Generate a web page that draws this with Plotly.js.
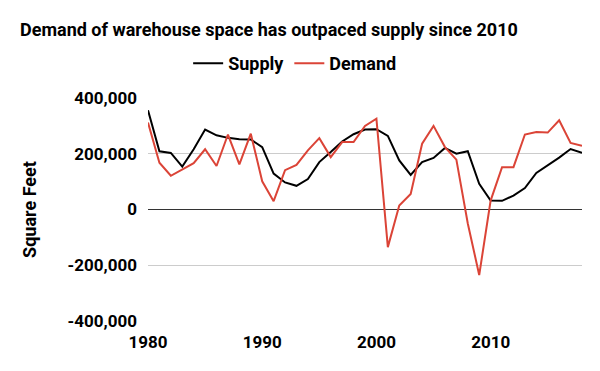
<!DOCTYPE html>
<html>
<head>
<meta charset="utf-8">
<script src="https://cdn.plot.ly/plotly-3.0.1.min.js"></script>
<style>
html,body{margin:0;padding:0;background:#fff;}
#chart{width:600px;height:371px;}
</style>
</head>
<body>
<div id="chart"></div>
<script>
const years = [1980,1981,1982,1983,1984,1985,1986,1987,1988,1989,
  1990,1991,1992,1993,1994,1995,1996,1997,1998,1999,
  2000,2001,2002,2003,2004,2005,2006,2007,2008,2009,
  2010,2011,2012,2013,2014,2015,2016,2017,2018];
const supply = [356000,209000,203000,154000,216000,287000,266000,257000,252000,251000,
  224000,129000,97000,85000,109000,170000,206000,244000,270000,287000,
  288000,264000,176000,124000,170000,185000,221000,200000,209000,92000,
  32000,31000,50000,77000,131000,157000,186000,217000,203000];
const demand = [312000,168000,121000,144000,166000,216000,156000,269000,162000,272000,
  101000,30000,141000,160000,212000,256000,188000,242000,242000,300000,
  326000,-135000,14000,56000,236000,300000,224000,179000,-50000,-235000,
  32000,152000,152000,269000,278000,276000,320000,239000,229000];
const seriesNames = ["Supply","Demand"];
const titleText = "Demand of warehouse space has outpaced supply since 2010";
const yTitle = "Square Feet";
const yTicks = [-400000,-200000,0,200000,400000];
const xTicks = [1980,1990,2000,2010];

const font = "Roboto, 'Open Sans', sans-serif";
const traces = [
  {x: years, y: supply, name: seriesNames[0], type: "scatter", mode: "lines",
   line: {color: "#000000", width: 2}},
  {x: years, y: demand, name: seriesNames[1], type: "scatter", mode: "lines",
   line: {color: "#db4437", width: 2}}
];
const layout = {
  width: 600, height: 371,
  margin: {l: 148, r: 18, t: 98, b: 50},
  paper_bgcolor: "#fff", plot_bgcolor: "#fff",
  font: {family: font, size: 17, color: "#000", weight: 700},
  title: {text: "<b>" + titleText + "</b>", x: 20/600, xanchor: "left", xref: "container",
          y: 1 - 30/371, yanchor: "middle", yref: "container",
          font: {family: font, size: 18, color: "#000"}},
  showlegend: true,
  legend: {orientation: "h", x: 0.0925, xanchor: "left", y: 1.155, yref: "paper",
           yanchor: "middle",
           font: {family: font, size: 18, color: "#000", weight: 700},
           bgcolor: "rgba(0,0,0,0)"},
  xaxis: {range: [1980, 2018], tickvals: xTicks, ticktext: xTicks.map(String),
          showgrid: false, zeroline: false, showline: false, ticks: "",
          ticklabelstandoff: 9,
          tickfont: {family: font, size: 17, color: "#000", weight: 700}, fixedrange: true},
  yaxis: {range: [-400000, 400000], tickvals: yTicks,
          ticktext: yTicks.map(v => v.toLocaleString("en-US")),
          showgrid: true, gridcolor: "#cccccc", gridwidth: 1,
          zeroline: true, zerolinecolor: "#333333", zerolinewidth: 1,
          showline: false, ticks: "", ticklabelstandoff: 10,
          tickfont: {family: font, size: 17, color: "#000", weight: 700},
          title: {text: "<b>" + yTitle + "</b>", standoff: 26,
                  font: {family: font, size: 18, color: "#000"}},
          fixedrange: true}
};
Plotly.newPlot("chart", traces, layout, {displayModeBar: false, staticPlot: true});
</script>
</body>
</html>
